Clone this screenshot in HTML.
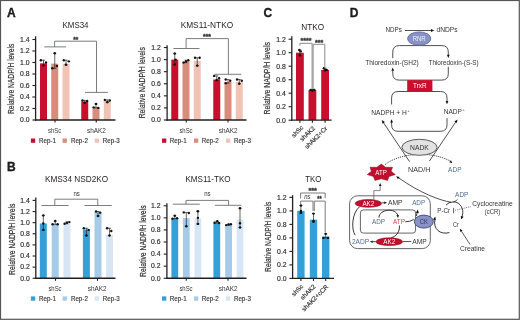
<!DOCTYPE html>
<html><head><meta charset="utf-8"><style>
html,body{margin:0;padding:0;background:#fff;}
svg{display:block;}
</style></head><body>
<svg width="520" height="320" viewBox="0 0 520 320">
<rect x="0" y="0" width="520" height="320" fill="#fff"/>
<g font-family='"Liberation Sans", "DejaVu Sans", sans-serif' fill="#231f20">
<text x="6.9" y="16.5" font-size="12.0" font-weight="bold" stroke="#000" stroke-width="0.3">A</text>
<text x="7.1" y="171.3" font-size="12.0" font-weight="bold" stroke="#000" stroke-width="0.3">B</text>
<text x="263.5" y="17.0" font-size="12.0" font-weight="bold" stroke="#000" stroke-width="0.3">C</text>
<text x="349.8" y="17.0" font-size="12.0" font-weight="bold" stroke="#000" stroke-width="0.3">D</text>
<rect x="40" y="63.36" width="7" height="56.64" fill="#c8102e"/>
<rect x="51.25" y="63.65" width="7" height="56.35" fill="#d98c7c"/>
<rect x="62.5" y="63.65" width="7" height="56.35" fill="#f1c3b5"/>
<rect x="81.25" y="101.60" width="7" height="18.40" fill="#c8102e"/>
<rect x="92.5" y="107.35" width="7" height="12.65" fill="#d98c7c"/>
<rect x="103.75" y="101.03" width="7" height="18.98" fill="#f1c3b5"/>
<line x1="43.5" y1="60.199999999999996" x2="43.5" y2="65.375" stroke="#222" stroke-width="0.7"/>
<line x1="42.0" y1="60.199999999999996" x2="45.0" y2="60.199999999999996" stroke="#222" stroke-width="0.7"/>
<line x1="42.0" y1="65.375" x2="45.0" y2="65.375" stroke="#222" stroke-width="0.7"/>
<circle cx="40.90" cy="60.20" r="1.2" fill="#111"/>
<circle cx="46.00" cy="62.50" r="1.2" fill="#111"/>
<circle cx="43.50" cy="65.38" r="1.2" fill="#111"/>
<line x1="54.75" y1="53.30000000000001" x2="54.75" y2="68.25" stroke="#222" stroke-width="0.7"/>
<line x1="53.25" y1="53.30000000000001" x2="56.25" y2="53.30000000000001" stroke="#222" stroke-width="0.7"/>
<line x1="53.25" y1="68.25" x2="56.25" y2="68.25" stroke="#222" stroke-width="0.7"/>
<circle cx="54.75" cy="53.30" r="1.2" fill="#111"/>
<circle cx="52.35" cy="68.25" r="1.2" fill="#111"/>
<circle cx="56.85" cy="65.95" r="1.2" fill="#111"/>
<line x1="66.0" y1="60.199999999999996" x2="66.0" y2="64.80000000000001" stroke="#222" stroke-width="0.7"/>
<line x1="64.5" y1="60.199999999999996" x2="67.5" y2="60.199999999999996" stroke="#222" stroke-width="0.7"/>
<line x1="64.5" y1="64.80000000000001" x2="67.5" y2="64.80000000000001" stroke="#222" stroke-width="0.7"/>
<circle cx="63.80" cy="60.20" r="1.2" fill="#111"/>
<circle cx="68.80" cy="61.35" r="1.2" fill="#111"/>
<circle cx="66.00" cy="64.80" r="1.2" fill="#111"/>
<line x1="84.75" y1="100.45" x2="84.75" y2="102.75" stroke="#222" stroke-width="0.7"/>
<line x1="83.25" y1="100.45" x2="86.25" y2="100.45" stroke="#222" stroke-width="0.7"/>
<line x1="83.25" y1="102.75" x2="86.25" y2="102.75" stroke="#222" stroke-width="0.7"/>
<circle cx="82.45" cy="100.45" r="1.2" fill="#111"/>
<circle cx="87.15" cy="101.03" r="1.2" fill="#111"/>
<circle cx="84.75" cy="102.75" r="1.2" fill="#111"/>
<line x1="96.0" y1="103.9" x2="96.0" y2="107.925" stroke="#222" stroke-width="0.7"/>
<line x1="94.5" y1="103.9" x2="97.5" y2="103.9" stroke="#222" stroke-width="0.7"/>
<line x1="94.5" y1="107.925" x2="97.5" y2="107.925" stroke="#222" stroke-width="0.7"/>
<circle cx="96.00" cy="103.90" r="1.2" fill="#111"/>
<circle cx="93.70" cy="107.35" r="1.2" fill="#111"/>
<circle cx="98.30" cy="107.92" r="1.2" fill="#111"/>
<line x1="107.25" y1="99.875" x2="107.25" y2="102.175" stroke="#222" stroke-width="0.7"/>
<line x1="105.75" y1="99.875" x2="108.75" y2="99.875" stroke="#222" stroke-width="0.7"/>
<line x1="105.75" y1="102.175" x2="108.75" y2="102.175" stroke="#222" stroke-width="0.7"/>
<circle cx="104.85" cy="99.88" r="1.2" fill="#111"/>
<circle cx="109.75" cy="100.45" r="1.2" fill="#111"/>
<circle cx="107.25" cy="102.17" r="1.2" fill="#111"/>
<line x1="35.6" y1="36.3" x2="35.6" y2="120.65" stroke="#231f20" stroke-width="1.3"/>
<line x1="34.95" y1="120" x2="115.5" y2="120" stroke="#231f20" stroke-width="1.3"/>
<line x1="32.4" y1="120.0" x2="35.6" y2="120.0" stroke="#231f20" stroke-width="1.1"/>
<text x="29.6" y="122.3" font-size="6.6" text-anchor="end" fill="#2a2a2a" textLength="9.5" lengthAdjust="spacingAndGlyphs" stroke="#2a2a2a" stroke-width="0.15">0.0</text>
<line x1="32.4" y1="108.5" x2="35.6" y2="108.5" stroke="#231f20" stroke-width="1.1"/>
<text x="29.6" y="110.8" font-size="6.6" text-anchor="end" fill="#2a2a2a" textLength="9.5" lengthAdjust="spacingAndGlyphs" stroke="#2a2a2a" stroke-width="0.15">0.2</text>
<line x1="32.4" y1="97.0" x2="35.6" y2="97.0" stroke="#231f20" stroke-width="1.1"/>
<text x="29.6" y="99.3" font-size="6.6" text-anchor="end" fill="#2a2a2a" textLength="9.5" lengthAdjust="spacingAndGlyphs" stroke="#2a2a2a" stroke-width="0.15">0.4</text>
<line x1="32.4" y1="85.5" x2="35.6" y2="85.5" stroke="#231f20" stroke-width="1.1"/>
<text x="29.6" y="87.8" font-size="6.6" text-anchor="end" fill="#2a2a2a" textLength="9.5" lengthAdjust="spacingAndGlyphs" stroke="#2a2a2a" stroke-width="0.15">0.6</text>
<line x1="32.4" y1="74.0" x2="35.6" y2="74.0" stroke="#231f20" stroke-width="1.1"/>
<text x="29.6" y="76.3" font-size="6.6" text-anchor="end" fill="#2a2a2a" textLength="9.5" lengthAdjust="spacingAndGlyphs" stroke="#2a2a2a" stroke-width="0.15">0.8</text>
<line x1="32.4" y1="62.5" x2="35.6" y2="62.5" stroke="#231f20" stroke-width="1.1"/>
<text x="29.6" y="64.8" font-size="6.6" text-anchor="end" fill="#2a2a2a" textLength="9.5" lengthAdjust="spacingAndGlyphs" stroke="#2a2a2a" stroke-width="0.15">1.0</text>
<line x1="32.4" y1="50.999999999999986" x2="35.6" y2="50.999999999999986" stroke="#231f20" stroke-width="1.1"/>
<text x="29.6" y="53.29999999999998" font-size="6.6" text-anchor="end" fill="#2a2a2a" textLength="9.5" lengthAdjust="spacingAndGlyphs" stroke="#2a2a2a" stroke-width="0.15">1.2</text>
<line x1="32.4" y1="39.499999999999986" x2="35.6" y2="39.499999999999986" stroke="#231f20" stroke-width="1.1"/>
<text x="29.6" y="41.79999999999998" font-size="6.6" text-anchor="end" fill="#2a2a2a" textLength="9.5" lengthAdjust="spacingAndGlyphs" stroke="#2a2a2a" stroke-width="0.15">1.4</text>
<line x1="55" y1="120" x2="55" y2="122.6" stroke="#231f20" stroke-width="1.1"/>
<line x1="96.25" y1="120" x2="96.25" y2="122.6" stroke="#231f20" stroke-width="1.1"/>
<text transform="translate(13.7,78.9) rotate(-90)" font-size="9" text-anchor="middle" fill="#333" stroke="#333" stroke-width="0.2" textLength="70.3" lengthAdjust="spacingAndGlyphs">Relative NADP/H levels</text>
<text x="75.5" y="28.2" font-size="8.6" text-anchor="middle" textLength="26" lengthAdjust="spacingAndGlyphs">KMS34</text>
<text x="54.6" y="132.5" font-size="7.6" text-anchor="middle" fill="#333" textLength="13.2" lengthAdjust="spacingAndGlyphs">shSc</text>
<text x="96.45" y="132.5" font-size="7.6" text-anchor="middle" fill="#333" textLength="18.9" lengthAdjust="spacingAndGlyphs">shAK2</text>
<polyline points="44.30,46.90 66.20,46.90" fill="none" stroke="#6d6e71" stroke-width="0.9"/>
<polyline points="54.60,46.90 54.60,41.20 96.50,41.20 96.50,92.40" fill="none" stroke="#6d6e71" stroke-width="0.9"/>
<polyline points="85.00,92.40 107.90,92.40" fill="none" stroke="#6d6e71" stroke-width="0.9"/>
<text x="75.85" y="41.8" font-size="7" text-anchor="middle" fill="#333" font-weight="bold" textLength="5" lengthAdjust="spacingAndGlyphs" stroke="#333" stroke-width="0.3">**</text>
<rect x="30.9" y="138.5" width="4.3" height="4.3" fill="#c8102e"/>
<text x="39" y="143" font-size="7.2" fill="#333" textLength="17" lengthAdjust="spacingAndGlyphs" stroke="#333" stroke-width="0.15">Rep-1</text>
<rect x="62.6" y="138.5" width="4.3" height="4.3" fill="#d98c7c"/>
<text x="70.9" y="143" font-size="7.2" fill="#333" textLength="17" lengthAdjust="spacingAndGlyphs" stroke="#333" stroke-width="0.15">Rep-2</text>
<rect x="94.7" y="138.5" width="4.3" height="4.3" fill="#f1c3b5"/>
<text x="102.7" y="143" font-size="7.2" fill="#333" textLength="17" lengthAdjust="spacingAndGlyphs" stroke="#333" stroke-width="0.15">Rep-3</text>
<rect x="171.25" y="59.60" width="7" height="60.40" fill="#c8102e"/>
<rect x="182.5" y="61.41" width="7" height="58.59" fill="#d98c7c"/>
<rect x="193.75" y="60.81" width="7" height="59.19" fill="#f1c3b5"/>
<rect x="213.25" y="79.53" width="7" height="40.47" fill="#c8102e"/>
<rect x="224.5" y="81.95" width="7" height="38.05" fill="#d98c7c"/>
<rect x="235.75" y="81.95" width="7" height="38.05" fill="#f1c3b5"/>
<line x1="174.75" y1="53.56" x2="174.75" y2="64.432" stroke="#222" stroke-width="0.7"/>
<line x1="173.25" y1="53.56" x2="176.25" y2="53.56" stroke="#222" stroke-width="0.7"/>
<line x1="173.25" y1="64.432" x2="176.25" y2="64.432" stroke="#222" stroke-width="0.7"/>
<circle cx="174.75" cy="53.56" r="1.2" fill="#111"/>
<circle cx="174.75" cy="64.43" r="1.2" fill="#111"/>
<circle cx="175.55" cy="59.60" r="1.2" fill="#111"/>
<line x1="186.0" y1="60.204" x2="186.0" y2="62.620000000000005" stroke="#222" stroke-width="0.7"/>
<line x1="184.5" y1="60.204" x2="187.5" y2="60.204" stroke="#222" stroke-width="0.7"/>
<line x1="184.5" y1="62.620000000000005" x2="187.5" y2="62.620000000000005" stroke="#222" stroke-width="0.7"/>
<circle cx="183.60" cy="62.62" r="1.2" fill="#111"/>
<circle cx="188.30" cy="60.20" r="1.2" fill="#111"/>
<circle cx="186.00" cy="61.41" r="1.2" fill="#111"/>
<line x1="197.25" y1="57.788" x2="197.25" y2="65.64" stroke="#222" stroke-width="0.7"/>
<line x1="195.75" y1="57.788" x2="198.75" y2="57.788" stroke="#222" stroke-width="0.7"/>
<line x1="195.75" y1="65.64" x2="198.75" y2="65.64" stroke="#222" stroke-width="0.7"/>
<circle cx="195.05" cy="57.79" r="1.2" fill="#111"/>
<circle cx="199.65" cy="57.79" r="1.2" fill="#111"/>
<circle cx="197.25" cy="65.64" r="1.2" fill="#111"/>
<line x1="216.75" y1="75.908" x2="216.75" y2="80.136" stroke="#222" stroke-width="0.7"/>
<line x1="215.25" y1="75.908" x2="218.25" y2="75.908" stroke="#222" stroke-width="0.7"/>
<line x1="215.25" y1="80.136" x2="218.25" y2="80.136" stroke="#222" stroke-width="0.7"/>
<circle cx="214.15" cy="75.91" r="1.2" fill="#111"/>
<circle cx="219.05" cy="78.32" r="1.2" fill="#111"/>
<circle cx="216.75" cy="80.14" r="1.2" fill="#111"/>
<line x1="228.0" y1="79.532" x2="228.0" y2="83.156" stroke="#222" stroke-width="0.7"/>
<line x1="226.5" y1="79.532" x2="229.5" y2="79.532" stroke="#222" stroke-width="0.7"/>
<line x1="226.5" y1="83.156" x2="229.5" y2="83.156" stroke="#222" stroke-width="0.7"/>
<circle cx="225.70" cy="79.53" r="1.2" fill="#111"/>
<circle cx="230.20" cy="80.74" r="1.2" fill="#111"/>
<circle cx="225.70" cy="83.16" r="1.2" fill="#111"/>
<line x1="239.25" y1="79.532" x2="239.25" y2="83.76" stroke="#222" stroke-width="0.7"/>
<line x1="237.75" y1="79.532" x2="240.75" y2="79.532" stroke="#222" stroke-width="0.7"/>
<line x1="237.75" y1="83.76" x2="240.75" y2="83.76" stroke="#222" stroke-width="0.7"/>
<circle cx="237.05" cy="79.53" r="1.2" fill="#111"/>
<circle cx="241.75" cy="80.74" r="1.2" fill="#111"/>
<circle cx="239.25" cy="83.76" r="1.2" fill="#111"/>
<line x1="167.1" y1="45.2" x2="167.1" y2="120.65" stroke="#231f20" stroke-width="1.3"/>
<line x1="166.45" y1="120" x2="246.5" y2="120" stroke="#231f20" stroke-width="1.3"/>
<line x1="163.9" y1="120.0" x2="167.1" y2="120.0" stroke="#231f20" stroke-width="1.1"/>
<text x="160.79999999999998" y="122.3" font-size="6.6" text-anchor="end" fill="#2a2a2a" textLength="9.5" lengthAdjust="spacingAndGlyphs" stroke="#2a2a2a" stroke-width="0.15">0.0</text>
<line x1="163.9" y1="107.92" x2="167.1" y2="107.92" stroke="#231f20" stroke-width="1.1"/>
<text x="160.79999999999998" y="110.22" font-size="6.6" text-anchor="end" fill="#2a2a2a" textLength="9.5" lengthAdjust="spacingAndGlyphs" stroke="#2a2a2a" stroke-width="0.15">0.2</text>
<line x1="163.9" y1="95.84" x2="167.1" y2="95.84" stroke="#231f20" stroke-width="1.1"/>
<text x="160.79999999999998" y="98.14" font-size="6.6" text-anchor="end" fill="#2a2a2a" textLength="9.5" lengthAdjust="spacingAndGlyphs" stroke="#2a2a2a" stroke-width="0.15">0.4</text>
<line x1="163.9" y1="83.75999999999999" x2="167.1" y2="83.75999999999999" stroke="#231f20" stroke-width="1.1"/>
<text x="160.79999999999998" y="86.05999999999999" font-size="6.6" text-anchor="end" fill="#2a2a2a" textLength="9.5" lengthAdjust="spacingAndGlyphs" stroke="#2a2a2a" stroke-width="0.15">0.6</text>
<line x1="163.9" y1="71.68" x2="167.1" y2="71.68" stroke="#231f20" stroke-width="1.1"/>
<text x="160.79999999999998" y="73.98" font-size="6.6" text-anchor="end" fill="#2a2a2a" textLength="9.5" lengthAdjust="spacingAndGlyphs" stroke="#2a2a2a" stroke-width="0.15">0.8</text>
<line x1="163.9" y1="59.6" x2="167.1" y2="59.6" stroke="#231f20" stroke-width="1.1"/>
<text x="160.79999999999998" y="61.9" font-size="6.6" text-anchor="end" fill="#2a2a2a" textLength="9.5" lengthAdjust="spacingAndGlyphs" stroke="#2a2a2a" stroke-width="0.15">1.0</text>
<line x1="163.9" y1="47.519999999999996" x2="167.1" y2="47.519999999999996" stroke="#231f20" stroke-width="1.1"/>
<text x="160.79999999999998" y="49.81999999999999" font-size="6.6" text-anchor="end" fill="#2a2a2a" textLength="9.5" lengthAdjust="spacingAndGlyphs" stroke="#2a2a2a" stroke-width="0.15">1.2</text>
<line x1="186.25" y1="120" x2="186.25" y2="122.6" stroke="#231f20" stroke-width="1.1"/>
<line x1="228" y1="120" x2="228" y2="122.6" stroke="#231f20" stroke-width="1.1"/>
<text transform="translate(145.0,82.7) rotate(-90)" font-size="9" text-anchor="middle" fill="#333" stroke="#333" stroke-width="0.2" textLength="71.2" lengthAdjust="spacingAndGlyphs">Relative NADP/H levels</text>
<text x="206.9" y="28.0" font-size="8.8" text-anchor="middle" textLength="52.5" lengthAdjust="spacingAndGlyphs">KMS11-NTKO</text>
<text x="186.0" y="132.5" font-size="7.6" text-anchor="middle" fill="#333" textLength="13.2" lengthAdjust="spacingAndGlyphs">shSc</text>
<text x="228.2" y="132.5" font-size="7.6" text-anchor="middle" fill="#333" textLength="18.9" lengthAdjust="spacingAndGlyphs">shAK2</text>
<polyline points="173.40,48.50 199.50,48.50" fill="none" stroke="#6d6e71" stroke-width="0.9"/>
<polyline points="186.10,48.50 186.10,38.60 228.40,38.60 228.40,74.30" fill="none" stroke="#6d6e71" stroke-width="0.9"/>
<polyline points="214.50,74.30 241.30,74.30" fill="none" stroke="#6d6e71" stroke-width="0.9"/>
<text x="207.0" y="38.9" font-size="7" text-anchor="middle" fill="#333" font-weight="bold" textLength="8" lengthAdjust="spacingAndGlyphs" stroke="#333" stroke-width="0.3">***</text>
<rect x="162" y="138.5" width="4.3" height="4.3" fill="#c8102e"/>
<text x="169.8" y="143" font-size="7.2" fill="#333" textLength="17" lengthAdjust="spacingAndGlyphs" stroke="#333" stroke-width="0.15">Rep-1</text>
<rect x="194" y="138.5" width="4.3" height="4.3" fill="#d98c7c"/>
<text x="201.8" y="143" font-size="7.2" fill="#333" textLength="17" lengthAdjust="spacingAndGlyphs" stroke="#333" stroke-width="0.15">Rep-2</text>
<rect x="226" y="138.5" width="4.3" height="4.3" fill="#f1c3b5"/>
<text x="233.9" y="143" font-size="7.2" fill="#333" textLength="17" lengthAdjust="spacingAndGlyphs" stroke="#333" stroke-width="0.15">Rep-3</text>
<rect x="39.8" y="223.48" width="7" height="54.77" fill="#35a0d8"/>
<rect x="51.7" y="224.32" width="7" height="53.93" fill="#a5cbe9"/>
<rect x="63.4" y="223.76" width="7" height="54.49" fill="#d7e6f4"/>
<rect x="82.9" y="229.60" width="7" height="48.65" fill="#35a0d8"/>
<rect x="94.5" y="212.09" width="7" height="66.16" fill="#a5cbe9"/>
<rect x="106" y="234.88" width="7" height="43.37" fill="#d7e6f4"/>
<line x1="43.3" y1="215.422" x2="43.3" y2="229.878" stroke="#222" stroke-width="0.7"/>
<line x1="41.8" y1="215.422" x2="44.8" y2="215.422" stroke="#222" stroke-width="0.7"/>
<line x1="41.8" y1="229.878" x2="44.8" y2="229.878" stroke="#222" stroke-width="0.7"/>
<circle cx="43.30" cy="215.42" r="1.2" fill="#111"/>
<circle cx="43.30" cy="223.48" r="1.2" fill="#111"/>
<circle cx="43.30" cy="229.88" r="1.2" fill="#111"/>
<line x1="55.2" y1="220.982" x2="55.2" y2="224.31799999999998" stroke="#222" stroke-width="0.7"/>
<line x1="53.7" y1="220.982" x2="56.7" y2="220.982" stroke="#222" stroke-width="0.7"/>
<line x1="53.7" y1="224.31799999999998" x2="56.7" y2="224.31799999999998" stroke="#222" stroke-width="0.7"/>
<circle cx="52.60" cy="224.32" r="1.2" fill="#111"/>
<circle cx="55.20" cy="220.98" r="1.2" fill="#111"/>
<circle cx="57.60" cy="224.32" r="1.2" fill="#111"/>
<line x1="66.9" y1="222.094" x2="66.9" y2="223.762" stroke="#222" stroke-width="0.7"/>
<line x1="65.4" y1="222.094" x2="68.4" y2="222.094" stroke="#222" stroke-width="0.7"/>
<line x1="65.4" y1="223.762" x2="68.4" y2="223.762" stroke="#222" stroke-width="0.7"/>
<circle cx="64.60" cy="223.76" r="1.2" fill="#111"/>
<circle cx="66.90" cy="222.65" r="1.2" fill="#111"/>
<circle cx="69.30" cy="222.09" r="1.2" fill="#111"/>
<line x1="86.4" y1="228.21" x2="86.4" y2="235.438" stroke="#222" stroke-width="0.7"/>
<line x1="84.9" y1="228.21" x2="87.9" y2="228.21" stroke="#222" stroke-width="0.7"/>
<line x1="84.9" y1="235.438" x2="87.9" y2="235.438" stroke="#222" stroke-width="0.7"/>
<circle cx="83.80" cy="228.21" r="1.2" fill="#111"/>
<circle cx="88.60" cy="229.88" r="1.2" fill="#111"/>
<circle cx="86.40" cy="235.44" r="1.2" fill="#111"/>
<line x1="98.0" y1="211.53" x2="98.0" y2="215.978" stroke="#222" stroke-width="0.7"/>
<line x1="96.5" y1="211.53" x2="99.5" y2="211.53" stroke="#222" stroke-width="0.7"/>
<line x1="96.5" y1="215.978" x2="99.5" y2="215.978" stroke="#222" stroke-width="0.7"/>
<circle cx="96.00" cy="211.53" r="1.2" fill="#111"/>
<circle cx="100.20" cy="212.64" r="1.2" fill="#111"/>
<circle cx="98.00" cy="215.98" r="1.2" fill="#111"/>
<line x1="109.5" y1="228.21" x2="109.5" y2="235.438" stroke="#222" stroke-width="0.7"/>
<line x1="108.0" y1="228.21" x2="111.0" y2="228.21" stroke="#222" stroke-width="0.7"/>
<line x1="108.0" y1="235.438" x2="111.0" y2="235.438" stroke="#222" stroke-width="0.7"/>
<circle cx="107.10" cy="228.21" r="1.2" fill="#111"/>
<circle cx="111.30" cy="230.99" r="1.2" fill="#111"/>
<circle cx="109.50" cy="235.44" r="1.2" fill="#111"/>
<line x1="35.8" y1="197.5" x2="35.8" y2="278.9" stroke="#231f20" stroke-width="1.3"/>
<line x1="35.15" y1="278.25" x2="115.5" y2="278.25" stroke="#231f20" stroke-width="1.3"/>
<line x1="32.599999999999994" y1="278.25" x2="35.8" y2="278.25" stroke="#231f20" stroke-width="1.1"/>
<text x="29.799999999999997" y="280.55" font-size="6.6" text-anchor="end" fill="#2a2a2a" textLength="9.5" lengthAdjust="spacingAndGlyphs" stroke="#2a2a2a" stroke-width="0.15">0.0</text>
<line x1="32.599999999999994" y1="267.13" x2="35.8" y2="267.13" stroke="#231f20" stroke-width="1.1"/>
<text x="29.799999999999997" y="269.43" font-size="6.6" text-anchor="end" fill="#2a2a2a" textLength="9.5" lengthAdjust="spacingAndGlyphs" stroke="#2a2a2a" stroke-width="0.15">0.2</text>
<line x1="32.599999999999994" y1="256.01" x2="35.8" y2="256.01" stroke="#231f20" stroke-width="1.1"/>
<text x="29.799999999999997" y="258.31" font-size="6.6" text-anchor="end" fill="#2a2a2a" textLength="9.5" lengthAdjust="spacingAndGlyphs" stroke="#2a2a2a" stroke-width="0.15">0.4</text>
<line x1="32.599999999999994" y1="244.89" x2="35.8" y2="244.89" stroke="#231f20" stroke-width="1.1"/>
<text x="29.799999999999997" y="247.19" font-size="6.6" text-anchor="end" fill="#2a2a2a" textLength="9.5" lengthAdjust="spacingAndGlyphs" stroke="#2a2a2a" stroke-width="0.15">0.6</text>
<line x1="32.599999999999994" y1="233.76999999999998" x2="35.8" y2="233.76999999999998" stroke="#231f20" stroke-width="1.1"/>
<text x="29.799999999999997" y="236.07" font-size="6.6" text-anchor="end" fill="#2a2a2a" textLength="9.5" lengthAdjust="spacingAndGlyphs" stroke="#2a2a2a" stroke-width="0.15">0.8</text>
<line x1="32.599999999999994" y1="222.65" x2="35.8" y2="222.65" stroke="#231f20" stroke-width="1.1"/>
<text x="29.799999999999997" y="224.95000000000002" font-size="6.6" text-anchor="end" fill="#2a2a2a" textLength="9.5" lengthAdjust="spacingAndGlyphs" stroke="#2a2a2a" stroke-width="0.15">1.0</text>
<line x1="32.599999999999994" y1="211.52999999999997" x2="35.8" y2="211.52999999999997" stroke="#231f20" stroke-width="1.1"/>
<text x="29.799999999999997" y="213.82999999999998" font-size="6.6" text-anchor="end" fill="#2a2a2a" textLength="9.5" lengthAdjust="spacingAndGlyphs" stroke="#2a2a2a" stroke-width="0.15">1.2</text>
<line x1="32.599999999999994" y1="200.41" x2="35.8" y2="200.41" stroke="#231f20" stroke-width="1.1"/>
<text x="29.799999999999997" y="202.71" font-size="6.6" text-anchor="end" fill="#2a2a2a" textLength="9.5" lengthAdjust="spacingAndGlyphs" stroke="#2a2a2a" stroke-width="0.15">1.4</text>
<line x1="55.5" y1="278.25" x2="55.5" y2="280.85" stroke="#231f20" stroke-width="1.1"/>
<line x1="97.5" y1="278.25" x2="97.5" y2="280.85" stroke="#231f20" stroke-width="1.1"/>
<text transform="translate(14.6,239.3) rotate(-90)" font-size="9" text-anchor="middle" fill="#333" stroke="#333" stroke-width="0.2" textLength="71.2" lengthAdjust="spacingAndGlyphs">Relative NADP/H levels</text>
<text x="76.6" y="182.0" font-size="8.8" text-anchor="middle" textLength="63.2" lengthAdjust="spacingAndGlyphs">KMS34 NSD2KO</text>
<text x="55.0" y="290.5" font-size="7.6" text-anchor="middle" fill="#333" textLength="13.2" lengthAdjust="spacingAndGlyphs">shSc</text>
<text x="97.2" y="290.5" font-size="7.6" text-anchor="middle" fill="#333" textLength="18.9" lengthAdjust="spacingAndGlyphs">shAK2</text>
<polyline points="41.40,205.50 68.60,205.50" fill="none" stroke="#6d6e71" stroke-width="0.9"/>
<polyline points="54.80,205.50 54.80,199.20 97.80,199.20 97.80,205.50" fill="none" stroke="#6d6e71" stroke-width="0.9"/>
<polyline points="84.50,205.50 111.70,205.50" fill="none" stroke="#6d6e71" stroke-width="0.9"/>
<text x="76.6" y="196.1" font-size="6.8" text-anchor="middle" fill="#333" textLength="6.4" lengthAdjust="spacingAndGlyphs">ns</text>
<rect x="30.9" y="296.4" width="4.3" height="4.3" fill="#35a0d8"/>
<text x="39" y="300.9" font-size="7.2" fill="#333" textLength="17" lengthAdjust="spacingAndGlyphs" stroke="#333" stroke-width="0.15">Rep-1</text>
<rect x="62.6" y="296.4" width="4.3" height="4.3" fill="#a5cbe9"/>
<text x="70.9" y="300.9" font-size="7.2" fill="#333" textLength="17" lengthAdjust="spacingAndGlyphs" stroke="#333" stroke-width="0.15">Rep-2</text>
<rect x="94.7" y="296.4" width="4.3" height="4.3" fill="#d7e6f4"/>
<text x="102.7" y="300.9" font-size="7.2" fill="#333" textLength="17" lengthAdjust="spacingAndGlyphs" stroke="#333" stroke-width="0.15">Rep-3</text>
<rect x="171.4" y="218.09" width="6.8" height="60.16" fill="#35a0d8"/>
<rect x="182.9" y="218.09" width="6.8" height="60.16" fill="#a5cbe9"/>
<rect x="194.5" y="218.45" width="6.8" height="59.80" fill="#d7e6f4"/>
<rect x="213.4" y="222.68" width="6.8" height="55.57" fill="#35a0d8"/>
<rect x="225.2" y="225.10" width="6.8" height="53.15" fill="#a5cbe9"/>
<rect x="236.6" y="219.66" width="6.8" height="58.59" fill="#d7e6f4"/>
<line x1="174.8" y1="215.736" x2="174.8" y2="218.756" stroke="#222" stroke-width="0.7"/>
<line x1="173.3" y1="215.736" x2="176.3" y2="215.736" stroke="#222" stroke-width="0.7"/>
<line x1="173.3" y1="218.756" x2="176.3" y2="218.756" stroke="#222" stroke-width="0.7"/>
<circle cx="172.50" cy="218.76" r="1.2" fill="#111"/>
<circle cx="174.80" cy="215.74" r="1.2" fill="#111"/>
<circle cx="177.10" cy="218.15" r="1.2" fill="#111"/>
<line x1="186.3" y1="212.414" x2="186.3" y2="226.306" stroke="#222" stroke-width="0.7"/>
<line x1="184.8" y1="212.414" x2="187.8" y2="212.414" stroke="#222" stroke-width="0.7"/>
<line x1="184.8" y1="226.306" x2="187.8" y2="226.306" stroke="#222" stroke-width="0.7"/>
<circle cx="183.80" cy="212.41" r="1.2" fill="#111"/>
<circle cx="188.80" cy="213.02" r="1.2" fill="#111"/>
<circle cx="186.30" cy="226.31" r="1.2" fill="#111"/>
<line x1="197.9" y1="211.206" x2="197.9" y2="223.89" stroke="#222" stroke-width="0.7"/>
<line x1="196.4" y1="211.206" x2="199.4" y2="211.206" stroke="#222" stroke-width="0.7"/>
<line x1="196.4" y1="223.89" x2="199.4" y2="223.89" stroke="#222" stroke-width="0.7"/>
<circle cx="197.90" cy="211.21" r="1.2" fill="#111"/>
<circle cx="197.90" cy="217.85" r="1.2" fill="#111"/>
<circle cx="197.90" cy="223.89" r="1.2" fill="#111"/>
<line x1="216.8" y1="221.172" x2="216.8" y2="222.984" stroke="#222" stroke-width="0.7"/>
<line x1="215.3" y1="221.172" x2="218.3" y2="221.172" stroke="#222" stroke-width="0.7"/>
<line x1="215.3" y1="222.984" x2="218.3" y2="222.984" stroke="#222" stroke-width="0.7"/>
<circle cx="214.60" cy="222.68" r="1.2" fill="#111"/>
<circle cx="217.30" cy="221.17" r="1.2" fill="#111"/>
<circle cx="219.10" cy="222.98" r="1.2" fill="#111"/>
<line x1="228.6" y1="224.192" x2="228.6" y2="225.098" stroke="#222" stroke-width="0.7"/>
<line x1="227.1" y1="224.192" x2="230.1" y2="224.192" stroke="#222" stroke-width="0.7"/>
<line x1="227.1" y1="225.098" x2="230.1" y2="225.098" stroke="#222" stroke-width="0.7"/>
<circle cx="226.20" cy="225.10" r="1.2" fill="#111"/>
<circle cx="228.60" cy="224.49" r="1.2" fill="#111"/>
<circle cx="230.90" cy="224.19" r="1.2" fill="#111"/>
<line x1="240.0" y1="208.186" x2="240.0" y2="227.514" stroke="#222" stroke-width="0.7"/>
<line x1="238.5" y1="208.186" x2="241.5" y2="208.186" stroke="#222" stroke-width="0.7"/>
<line x1="238.5" y1="227.514" x2="241.5" y2="227.514" stroke="#222" stroke-width="0.7"/>
<circle cx="240.00" cy="208.19" r="1.2" fill="#111"/>
<circle cx="240.00" cy="223.29" r="1.2" fill="#111"/>
<circle cx="240.00" cy="227.51" r="1.2" fill="#111"/>
<line x1="166.9" y1="203.2" x2="166.9" y2="278.9" stroke="#231f20" stroke-width="1.3"/>
<line x1="166.25" y1="278.25" x2="246.5" y2="278.25" stroke="#231f20" stroke-width="1.3"/>
<line x1="163.70000000000002" y1="278.25" x2="166.9" y2="278.25" stroke="#231f20" stroke-width="1.1"/>
<text x="160.5" y="280.55" font-size="6.6" text-anchor="end" fill="#2a2a2a" textLength="9.5" lengthAdjust="spacingAndGlyphs" stroke="#2a2a2a" stroke-width="0.15">0.0</text>
<line x1="163.70000000000002" y1="266.17" x2="166.9" y2="266.17" stroke="#231f20" stroke-width="1.1"/>
<text x="160.5" y="268.47" font-size="6.6" text-anchor="end" fill="#2a2a2a" textLength="9.5" lengthAdjust="spacingAndGlyphs" stroke="#2a2a2a" stroke-width="0.15">0.2</text>
<line x1="163.70000000000002" y1="254.09" x2="166.9" y2="254.09" stroke="#231f20" stroke-width="1.1"/>
<text x="160.5" y="256.39" font-size="6.6" text-anchor="end" fill="#2a2a2a" textLength="9.5" lengthAdjust="spacingAndGlyphs" stroke="#2a2a2a" stroke-width="0.15">0.4</text>
<line x1="163.70000000000002" y1="242.01" x2="166.9" y2="242.01" stroke="#231f20" stroke-width="1.1"/>
<text x="160.5" y="244.31" font-size="6.6" text-anchor="end" fill="#2a2a2a" textLength="9.5" lengthAdjust="spacingAndGlyphs" stroke="#2a2a2a" stroke-width="0.15">0.6</text>
<line x1="163.70000000000002" y1="229.93" x2="166.9" y2="229.93" stroke="#231f20" stroke-width="1.1"/>
<text x="160.5" y="232.23000000000002" font-size="6.6" text-anchor="end" fill="#2a2a2a" textLength="9.5" lengthAdjust="spacingAndGlyphs" stroke="#2a2a2a" stroke-width="0.15">0.8</text>
<line x1="163.70000000000002" y1="217.85" x2="166.9" y2="217.85" stroke="#231f20" stroke-width="1.1"/>
<text x="160.5" y="220.15" font-size="6.6" text-anchor="end" fill="#2a2a2a" textLength="9.5" lengthAdjust="spacingAndGlyphs" stroke="#2a2a2a" stroke-width="0.15">1.0</text>
<line x1="163.70000000000002" y1="205.76999999999998" x2="166.9" y2="205.76999999999998" stroke="#231f20" stroke-width="1.1"/>
<text x="160.5" y="208.07" font-size="6.6" text-anchor="end" fill="#2a2a2a" textLength="9.5" lengthAdjust="spacingAndGlyphs" stroke="#2a2a2a" stroke-width="0.15">1.2</text>
<line x1="186.25" y1="278.25" x2="186.25" y2="280.85" stroke="#231f20" stroke-width="1.1"/>
<line x1="228" y1="278.25" x2="228" y2="280.85" stroke="#231f20" stroke-width="1.1"/>
<text transform="translate(145.5,241.2) rotate(-90)" font-size="9" text-anchor="middle" fill="#333" stroke="#333" stroke-width="0.2" textLength="71.5" lengthAdjust="spacingAndGlyphs">Relative NADP/H levels</text>
<text x="208" y="181.9" font-size="8.8" text-anchor="middle" textLength="45.2" lengthAdjust="spacingAndGlyphs">KMS11-TKO</text>
<text x="186.0" y="290.5" font-size="7.6" text-anchor="middle" fill="#333" textLength="13.2" lengthAdjust="spacingAndGlyphs">shSc</text>
<text x="228.2" y="290.5" font-size="7.6" text-anchor="middle" fill="#333" textLength="18.9" lengthAdjust="spacingAndGlyphs">shAK2</text>
<polyline points="172.90,204.20 199.80,204.20" fill="none" stroke="#6d6e71" stroke-width="0.9"/>
<polyline points="186.00,204.20 186.00,200.40 228.60,200.40 228.60,205.30" fill="none" stroke="#6d6e71" stroke-width="0.9"/>
<polyline points="214.90,205.30 241.40,205.30" fill="none" stroke="#6d6e71" stroke-width="0.9"/>
<text x="207.4" y="195.8" font-size="6.8" text-anchor="middle" fill="#333" textLength="6.4" lengthAdjust="spacingAndGlyphs">ns</text>
<rect x="162" y="296.4" width="4.3" height="4.3" fill="#35a0d8"/>
<text x="169.8" y="300.9" font-size="7.2" fill="#333" textLength="17" lengthAdjust="spacingAndGlyphs" stroke="#333" stroke-width="0.15">Rep-1</text>
<rect x="194" y="296.4" width="4.3" height="4.3" fill="#a5cbe9"/>
<text x="201.8" y="300.9" font-size="7.2" fill="#333" textLength="17" lengthAdjust="spacingAndGlyphs" stroke="#333" stroke-width="0.15">Rep-2</text>
<rect x="226" y="296.4" width="4.3" height="4.3" fill="#d7e6f4"/>
<text x="233.9" y="300.9" font-size="7.2" fill="#333" textLength="17" lengthAdjust="spacingAndGlyphs" stroke="#333" stroke-width="0.15">Rep-3</text>
<rect x="296" y="52.70" width="7.8" height="67.50" fill="#c8102e"/>
<rect x="308.5" y="90.03" width="7.8" height="30.17" fill="#c8102e"/>
<rect x="321.2" y="69.91" width="7.8" height="50.29" fill="#c8102e"/>
<line x1="299.9" y1="50.0" x2="299.9" y2="55.400000000000006" stroke="#222" stroke-width="0.7"/>
<line x1="298.4" y1="50.0" x2="301.4" y2="50.0" stroke="#222" stroke-width="0.7"/>
<line x1="298.4" y1="55.400000000000006" x2="301.4" y2="55.400000000000006" stroke="#222" stroke-width="0.7"/>
<circle cx="299.30" cy="50.00" r="1.2" fill="#111"/>
<circle cx="300.70" cy="51.35" r="1.2" fill="#111"/>
<circle cx="299.90" cy="55.40" r="1.2" fill="#111"/>
<line x1="312.4" y1="89.825" x2="312.4" y2="90.5" stroke="#222" stroke-width="0.7"/>
<line x1="310.9" y1="89.825" x2="313.9" y2="89.825" stroke="#222" stroke-width="0.7"/>
<line x1="310.9" y1="90.5" x2="313.9" y2="90.5" stroke="#222" stroke-width="0.7"/>
<circle cx="310.60" cy="89.83" r="1.2" fill="#111"/>
<circle cx="314.20" cy="89.83" r="1.2" fill="#111"/>
<circle cx="312.40" cy="90.50" r="1.2" fill="#111"/>
<line x1="325.09999999999997" y1="68.225" x2="325.09999999999997" y2="70.25" stroke="#222" stroke-width="0.7"/>
<line x1="323.59999999999997" y1="68.225" x2="326.59999999999997" y2="68.225" stroke="#222" stroke-width="0.7"/>
<line x1="323.59999999999997" y1="70.25" x2="326.59999999999997" y2="70.25" stroke="#222" stroke-width="0.7"/>
<circle cx="323.90" cy="68.22" r="1.2" fill="#111"/>
<circle cx="326.70" cy="69.91" r="1.2" fill="#111"/>
<circle cx="325.10" cy="70.25" r="1.2" fill="#111"/>
<line x1="291.8" y1="36.3" x2="291.8" y2="120.85000000000001" stroke="#231f20" stroke-width="1.3"/>
<line x1="291.15000000000003" y1="120.2" x2="331.6" y2="120.2" stroke="#231f20" stroke-width="1.3"/>
<line x1="288.6" y1="120.2" x2="291.8" y2="120.2" stroke="#231f20" stroke-width="1.1"/>
<text x="285.8" y="122.5" font-size="6.6" text-anchor="end" fill="#2a2a2a" textLength="9.5" lengthAdjust="spacingAndGlyphs" stroke="#2a2a2a" stroke-width="0.15">0.0</text>
<line x1="288.6" y1="106.7" x2="291.8" y2="106.7" stroke="#231f20" stroke-width="1.1"/>
<text x="285.8" y="109.0" font-size="6.6" text-anchor="end" fill="#2a2a2a" textLength="9.5" lengthAdjust="spacingAndGlyphs" stroke="#2a2a2a" stroke-width="0.15">0.2</text>
<line x1="288.6" y1="93.2" x2="291.8" y2="93.2" stroke="#231f20" stroke-width="1.1"/>
<text x="285.8" y="95.5" font-size="6.6" text-anchor="end" fill="#2a2a2a" textLength="9.5" lengthAdjust="spacingAndGlyphs" stroke="#2a2a2a" stroke-width="0.15">0.4</text>
<line x1="288.6" y1="79.69999999999999" x2="291.8" y2="79.69999999999999" stroke="#231f20" stroke-width="1.1"/>
<text x="285.8" y="81.99999999999999" font-size="6.6" text-anchor="end" fill="#2a2a2a" textLength="9.5" lengthAdjust="spacingAndGlyphs" stroke="#2a2a2a" stroke-width="0.15">0.6</text>
<line x1="288.6" y1="66.2" x2="291.8" y2="66.2" stroke="#231f20" stroke-width="1.1"/>
<text x="285.8" y="68.5" font-size="6.6" text-anchor="end" fill="#2a2a2a" textLength="9.5" lengthAdjust="spacingAndGlyphs" stroke="#2a2a2a" stroke-width="0.15">0.8</text>
<line x1="288.6" y1="52.7" x2="291.8" y2="52.7" stroke="#231f20" stroke-width="1.1"/>
<text x="285.8" y="55.0" font-size="6.6" text-anchor="end" fill="#2a2a2a" textLength="9.5" lengthAdjust="spacingAndGlyphs" stroke="#2a2a2a" stroke-width="0.15">1.0</text>
<line x1="288.6" y1="39.19999999999999" x2="291.8" y2="39.19999999999999" stroke="#231f20" stroke-width="1.1"/>
<text x="285.8" y="41.499999999999986" font-size="6.6" text-anchor="end" fill="#2a2a2a" textLength="9.5" lengthAdjust="spacingAndGlyphs" stroke="#2a2a2a" stroke-width="0.15">1.2</text>
<line x1="299.9" y1="120.2" x2="299.9" y2="122.8" stroke="#231f20" stroke-width="1.1"/>
<line x1="312.4" y1="120.2" x2="312.4" y2="122.8" stroke="#231f20" stroke-width="1.1"/>
<line x1="325.1" y1="120.2" x2="325.1" y2="122.8" stroke="#231f20" stroke-width="1.1"/>
<text transform="translate(270.3,78.3) rotate(-90)" font-size="9" text-anchor="middle" fill="#333" stroke="#333" stroke-width="0.2" textLength="72.3" lengthAdjust="spacingAndGlyphs">Relative NADP/H levels</text>
<text x="312.65" y="30.0" font-size="8.8" text-anchor="middle" textLength="22.9" lengthAdjust="spacingAndGlyphs">NTKO</text>
<polyline points="299.90,45.60 299.90,43.30 312.10,43.30 312.10,89.00" fill="none" stroke="#8a8a8a" stroke-width="1.0"/>
<polyline points="313.10,89.00 313.10,44.30 324.80,44.30 324.80,68.30" fill="none" stroke="#8a8a8a" stroke-width="1.0"/>
<text x="305.9" y="42.95" font-size="7" text-anchor="middle" fill="#333" font-weight="bold" textLength="11" lengthAdjust="spacingAndGlyphs" stroke="#333" stroke-width="0.3">****</text>
<text x="319.15" y="44.5" font-size="7" text-anchor="middle" fill="#333" font-weight="bold" textLength="8.3" lengthAdjust="spacingAndGlyphs" stroke="#333" stroke-width="0.3">***</text>
<text transform="translate(303.8,128.0) rotate(-45)" font-size="6.3" text-anchor="end" fill="#2a2a2a" stroke="#2a2a2a" stroke-width="0.15">shSc</text>
<text transform="translate(315.4,128.7) rotate(-45)" font-size="6.3" text-anchor="end" fill="#2a2a2a" stroke="#2a2a2a" stroke-width="0.15">shAK2</text>
<text transform="translate(327.7,128.9) rotate(-45)" font-size="6.3" text-anchor="end" fill="#2a2a2a" stroke="#2a2a2a" stroke-width="0.15">shAK2+Cr</text>
<rect x="297.2" y="210.90" width="7.4" height="67.50" fill="#35a0d8"/>
<rect x="309.8" y="219.67" width="7.4" height="58.73" fill="#35a0d8"/>
<rect x="322" y="236.55" width="7.4" height="41.85" fill="#35a0d8"/>
<line x1="300.9" y1="205.49999999999997" x2="300.9" y2="212.92499999999998" stroke="#222" stroke-width="0.7"/>
<line x1="299.4" y1="205.49999999999997" x2="302.4" y2="205.49999999999997" stroke="#222" stroke-width="0.7"/>
<line x1="299.4" y1="212.92499999999998" x2="302.4" y2="212.92499999999998" stroke="#222" stroke-width="0.7"/>
<circle cx="300.90" cy="205.50" r="1.2" fill="#111"/>
<circle cx="300.90" cy="210.90" r="1.2" fill="#111"/>
<circle cx="300.90" cy="212.92" r="1.2" fill="#111"/>
<line x1="313.5" y1="213.59999999999997" x2="313.5" y2="221.7" stroke="#222" stroke-width="0.7"/>
<line x1="312.0" y1="213.59999999999997" x2="315.0" y2="213.59999999999997" stroke="#222" stroke-width="0.7"/>
<line x1="312.0" y1="221.7" x2="315.0" y2="221.7" stroke="#222" stroke-width="0.7"/>
<circle cx="313.50" cy="213.60" r="1.2" fill="#111"/>
<circle cx="313.50" cy="221.02" r="1.2" fill="#111"/>
<circle cx="313.50" cy="221.70" r="1.2" fill="#111"/>
<line x1="325.7" y1="233.84999999999997" x2="325.7" y2="237.89999999999998" stroke="#222" stroke-width="0.7"/>
<line x1="324.2" y1="233.84999999999997" x2="327.2" y2="233.84999999999997" stroke="#222" stroke-width="0.7"/>
<line x1="324.2" y1="237.89999999999998" x2="327.2" y2="237.89999999999998" stroke="#222" stroke-width="0.7"/>
<circle cx="325.70" cy="233.85" r="1.2" fill="#111"/>
<circle cx="323.40" cy="237.90" r="1.2" fill="#111"/>
<circle cx="328.00" cy="237.90" r="1.2" fill="#111"/>
<line x1="292.6" y1="195.2" x2="292.6" y2="279.04999999999995" stroke="#231f20" stroke-width="1.3"/>
<line x1="291.95000000000005" y1="278.4" x2="334" y2="278.4" stroke="#231f20" stroke-width="1.3"/>
<line x1="289.40000000000003" y1="278.4" x2="292.6" y2="278.4" stroke="#231f20" stroke-width="1.1"/>
<text x="286.6" y="280.7" font-size="6.6" text-anchor="end" fill="#2a2a2a" textLength="9.5" lengthAdjust="spacingAndGlyphs" stroke="#2a2a2a" stroke-width="0.15">0.0</text>
<line x1="289.40000000000003" y1="264.9" x2="292.6" y2="264.9" stroke="#231f20" stroke-width="1.1"/>
<text x="286.6" y="267.2" font-size="6.6" text-anchor="end" fill="#2a2a2a" textLength="9.5" lengthAdjust="spacingAndGlyphs" stroke="#2a2a2a" stroke-width="0.15">0.2</text>
<line x1="289.40000000000003" y1="251.39999999999998" x2="292.6" y2="251.39999999999998" stroke="#231f20" stroke-width="1.1"/>
<text x="286.6" y="253.7" font-size="6.6" text-anchor="end" fill="#2a2a2a" textLength="9.5" lengthAdjust="spacingAndGlyphs" stroke="#2a2a2a" stroke-width="0.15">0.4</text>
<line x1="289.40000000000003" y1="237.89999999999998" x2="292.6" y2="237.89999999999998" stroke="#231f20" stroke-width="1.1"/>
<text x="286.6" y="240.2" font-size="6.6" text-anchor="end" fill="#2a2a2a" textLength="9.5" lengthAdjust="spacingAndGlyphs" stroke="#2a2a2a" stroke-width="0.15">0.6</text>
<line x1="289.40000000000003" y1="224.39999999999998" x2="292.6" y2="224.39999999999998" stroke="#231f20" stroke-width="1.1"/>
<text x="286.6" y="226.7" font-size="6.6" text-anchor="end" fill="#2a2a2a" textLength="9.5" lengthAdjust="spacingAndGlyphs" stroke="#2a2a2a" stroke-width="0.15">0.8</text>
<line x1="289.40000000000003" y1="210.89999999999998" x2="292.6" y2="210.89999999999998" stroke="#231f20" stroke-width="1.1"/>
<text x="286.6" y="213.2" font-size="6.6" text-anchor="end" fill="#2a2a2a" textLength="9.5" lengthAdjust="spacingAndGlyphs" stroke="#2a2a2a" stroke-width="0.15">1.0</text>
<line x1="289.40000000000003" y1="197.39999999999998" x2="292.6" y2="197.39999999999998" stroke="#231f20" stroke-width="1.1"/>
<text x="286.6" y="199.7" font-size="6.6" text-anchor="end" fill="#2a2a2a" textLength="9.5" lengthAdjust="spacingAndGlyphs" stroke="#2a2a2a" stroke-width="0.15">1.2</text>
<line x1="300.9" y1="278.4" x2="300.9" y2="281.0" stroke="#231f20" stroke-width="1.1"/>
<line x1="313.5" y1="278.4" x2="313.5" y2="281.0" stroke="#231f20" stroke-width="1.1"/>
<line x1="325.7" y1="278.4" x2="325.7" y2="281.0" stroke="#231f20" stroke-width="1.1"/>
<text transform="translate(271.2,236.8) rotate(-90)" font-size="9" text-anchor="middle" fill="#333" stroke="#333" stroke-width="0.2" textLength="70.3" lengthAdjust="spacingAndGlyphs">Relative NADP/H levels</text>
<text x="313.3" y="182.4" font-size="9" text-anchor="middle" textLength="16.2" lengthAdjust="spacingAndGlyphs">TKO</text>
<polyline points="300.60,198.40 300.60,193.00 325.20,193.00 325.20,198.40" fill="none" stroke="#6d6e71" stroke-width="0.9"/>
<polyline points="300.60,204.60 300.60,201.10 313.00,201.10 313.00,211.00" fill="none" stroke="#6d6e71" stroke-width="0.9"/>
<polyline points="314.30,211.00 314.30,201.10 325.20,201.10 325.20,232.50" fill="none" stroke="#6d6e71" stroke-width="0.9"/>
<text x="312.65" y="192.9" font-size="7" text-anchor="middle" fill="#333" font-weight="bold" textLength="8.5" lengthAdjust="spacingAndGlyphs" stroke="#333" stroke-width="0.3">***</text>
<text x="307.4" y="198.6" font-size="6.3" text-anchor="middle" fill="#333" textLength="6.4" lengthAdjust="spacingAndGlyphs" font-style="italic">ns</text>
<text x="319.45" y="200.6" font-size="7" text-anchor="middle" fill="#333" font-weight="bold" textLength="4.3" lengthAdjust="spacingAndGlyphs" stroke="#333" stroke-width="0.3">**</text>
<text transform="translate(303.8,286.8) rotate(-45)" font-size="6.3" text-anchor="end" fill="#2a2a2a" stroke="#2a2a2a" stroke-width="0.15">shSc</text>
<text transform="translate(316.0,287.1) rotate(-45)" font-size="6.3" text-anchor="end" fill="#2a2a2a" stroke="#2a2a2a" stroke-width="0.15">shAK2</text>
<text transform="translate(328.6,287.3) rotate(-45)" font-size="6.3" text-anchor="end" fill="#2a2a2a" stroke="#2a2a2a" stroke-width="0.15">shAK2+cCR</text>
<g fill="#333">
<text x="385.4" y="32.3" font-size="6.8" textLength="16.4" lengthAdjust="spacingAndGlyphs">NDPs</text>
<line x1="404.9" y1="30.5" x2="431.5" y2="30.5" stroke="#3c3c3c" stroke-width="0.9"/>
<polygon points="434.20,30.50 431.00,31.90 431.00,29.10" fill="#111"/>
<text x="436.5" y="32.3" font-size="6.8" textLength="21.1" lengthAdjust="spacingAndGlyphs">dNDPs</text>
<path d="M392.75,58.2 V52.1 Q392.75,45.6 399.25,45.6 H441.8 Q448.3,45.6 448.3,52.1 V55" fill="none" stroke="#3c3c3c" stroke-width="0.9"/>
<polygon points="448.30,58.00 446.90,54.80 449.70,54.80" fill="#111"/>
<path d="M448.3,66.9 V73.6 Q448.3,80.1 441.8,80.1 H399.25 Q392.75,80.1 392.75,73.6 V70.5" fill="none" stroke="#3c3c3c" stroke-width="0.9"/>
<polygon points="392.75,67.60 394.15,70.80 391.35,70.80" fill="#111"/>
<ellipse cx="419.2" cy="38.6" rx="11.6" ry="6.7" fill="#8892c6" stroke="#566096" stroke-width="0.8"/>
<text x="419.2" y="40.9" font-size="6.4" text-anchor="middle" fill="#eef0fa" textLength="13" lengthAdjust="spacingAndGlyphs">RNR</text>
<text x="365.3" y="64.8" font-size="6.8" textLength="53.5" lengthAdjust="spacingAndGlyphs">Thioredoxin-(SH2)</text>
<text x="428.5" y="64.8" font-size="6.8" textLength="50.2" lengthAdjust="spacingAndGlyphs">Thioredoxin-(S-S)</text>
<path d="M391.6,104.5 V98.0 Q391.6,91.5 398.1,91.5 H440.5 Q447.0,91.5 447.0,98.0 V101.5" fill="none" stroke="#3c3c3c" stroke-width="0.9"/>
<polygon points="447.00,104.30 445.60,101.10 448.40,101.10" fill="#111"/>
<path d="M447.0,118.1 V124.80000000000001 Q447.0,131.3 440.5,131.3 H398.1 Q391.6,131.3 391.6,124.80000000000001 V122" fill="none" stroke="#3c3c3c" stroke-width="0.9"/>
<polygon points="391.60,119.20 393.00,122.40 390.20,122.40" fill="#111"/>
<rect x="407.2" y="80.1" width="25.2" height="11.4" fill="#c8102e"/>
<text x="419.8" y="88.2" font-size="6.6" text-anchor="middle" fill="#fff" textLength="13.5" lengthAdjust="spacingAndGlyphs">TrxR</text>
<text x="371.2" y="114.9" font-size="6.8" textLength="35.7" lengthAdjust="spacingAndGlyphs">NADPH + H</text>
<text x="407.5" y="111.6" font-size="3.9">+</text>
<text x="443.75" y="114.3" font-size="6.8" textLength="18.2" lengthAdjust="spacingAndGlyphs">NADP</text>
<text x="462.5" y="110.9" font-size="3.9">+</text>
<line x1="409.6" y1="161.7" x2="383.4" y2="122.6" stroke="#3c3c3c" stroke-width="0.9"/>
<polygon points="381.80,120.10 384.94,122.09 382.44,123.76" fill="#111"/>
<line x1="429.3" y1="161.2" x2="455.8" y2="121.9" stroke="#3c3c3c" stroke-width="0.9"/>
<polygon points="457.50,119.40 456.84,123.06 454.36,121.38" fill="#111"/>
<path d="M385.2,164.6 C391,159.5 403,155 419.5,154.2 C434,154.4 445,157.8 450.6,161.4" fill="none" stroke="#222" stroke-width="0.9" stroke-dasharray="1.1,1"/>
<polygon points="452.40,163.20 449.27,162.27 450.94,160.28" fill="#111"/>
<ellipse cx="419.5" cy="147.3" rx="17.6" ry="8.0" fill="#e2e2e2" stroke="#4a4a4a" stroke-width="0.9"/>
<text x="419.4" y="149.6" font-size="6.6" text-anchor="middle" textLength="18.8" lengthAdjust="spacingAndGlyphs">NADK</text>
<text x="408.1" y="171.6" font-size="6.8" textLength="22.3" lengthAdjust="spacingAndGlyphs">NAD/H</text>
<text x="448.1" y="171.6" font-size="6.8" fill="#506a94" textLength="13.4" lengthAdjust="spacingAndGlyphs">ADP</text>
<polygon points="381.25,164.10 385.62,167.28 392.51,167.34 391.08,171.36 395.29,174.61 389.13,176.45 387.50,180.45 381.25,178.72 375.00,180.45 373.37,176.45 367.21,174.61 371.42,171.36 369.99,167.34 376.88,167.28" fill="#c20d2d" stroke="#8e0b20" stroke-width="0.5" stroke-linejoin="round"/>
<text x="381.1" y="175.3" font-size="6.6" text-anchor="middle" fill="#fff" textLength="11.5" lengthAdjust="spacingAndGlyphs">ATP</text>
<path d="M451,202.2 C440,200.5 420,193 398.6,177.8" fill="none" stroke="#3c3c3c" stroke-width="0.9"/>
<polygon points="396.10,176.30 399.54,176.93 397.97,179.25" fill="#111"/>
<polyline points="373.80,199.50 373.80,190.60 380.20,190.60 380.20,185.80" fill="none" stroke="#777" stroke-width="0.9"/>
<polygon points="380.20,183.10 381.50,186.10 378.90,186.10" fill="#111"/>
<rect x="349.6" y="195.8" width="80.7" height="52.8" rx="8" ry="8" fill="none" stroke="#555" stroke-width="0.9"/>
<rect x="360.4" y="209.9" width="55.2" height="23.2" rx="3" ry="3" fill="none" stroke="#555" stroke-width="0.9"/>
<ellipse cx="368.4" cy="203.4" rx="13.2" ry="3.9" fill="#c20d2d" stroke="#8e0b20" stroke-width="0.6"/>
<text x="368.4" y="205.8" font-size="6.6" text-anchor="middle" fill="#fff" textLength="12" lengthAdjust="spacingAndGlyphs">AK2</text>
<line x1="382.2" y1="202.8" x2="384.6" y2="202.8" stroke="#2b2b2b" stroke-width="0.9"/>
<polygon points="387.00,202.80 384.20,204.10 384.20,201.50" fill="#111"/>
<text x="388.0" y="205.3" font-size="6.8" textLength="14.5" lengthAdjust="spacingAndGlyphs">AMP</text>
<text x="412.2" y="205.3" font-size="6.8" fill="#506a94" textLength="12.9" lengthAdjust="spacingAndGlyphs">ADP</text>
<text x="371.9" y="224.4" font-size="6.8" fill="#506a94" textLength="13.1" lengthAdjust="spacingAndGlyphs">ADP</text>
<text x="393.1" y="224.4" font-size="6.8" fill="#e0475a" textLength="11.9" lengthAdjust="spacingAndGlyphs">ATP</text>
<path d="M379,217.6 C379,209 396,207.5 397.8,215.5" fill="none" stroke="#222" stroke-width="0.9"/>
<polygon points="398.10,218.10 396.30,215.37 398.86,214.92" fill="#111"/>
<path d="M399.4,225.6 C400,232 396,236.5 391.3,237.7" fill="none" stroke="#222" stroke-width="0.9"/>
<path d="M359.4,206.9 C352,213 351,229 355.2,235.2" fill="none" stroke="#222" stroke-width="0.9"/>
<ellipse cx="389.3" cy="241.7" rx="13.3" ry="3.9" fill="#c20d2d" stroke="#8e0b20" stroke-width="0.6"/>
<text x="389.3" y="244.2" font-size="6.6" text-anchor="middle" fill="#fff" textLength="12" lengthAdjust="spacingAndGlyphs">AK2</text>
<line x1="375.8" y1="241.7" x2="372.5" y2="241.7" stroke="#2b2b2b" stroke-width="0.9"/>
<polygon points="369.90,241.70 372.70,240.40 372.70,243.00" fill="#111"/>
<text x="351.9" y="243.6" font-size="6.8" fill="#506a94" textLength="17.3" lengthAdjust="spacingAndGlyphs">2ADP</text>
<line x1="402.8" y1="241.5" x2="411.3" y2="241.5" stroke="#444" stroke-width="0.9"/>
<text x="412.2" y="244.1" font-size="6.8" textLength="14.6" lengthAdjust="spacingAndGlyphs">AMP</text>
<path d="M405.3,221.8 Q410,221.8 413.8,219.5" fill="none" stroke="#222" stroke-width="0.9"/>
<path d="M416.5,216 Q416.5,213.5 417.6,212.3" fill="none" stroke="#222" stroke-width="0.9"/>
<polygon points="417.90,209.60 418.79,213.21 415.83,212.69" fill="#111"/>
<ellipse cx="423.85" cy="221.6" rx="9.5" ry="6.5" fill="#8892c6" stroke="#4a5285" stroke-width="1"/>
<text x="423.9" y="224.0" font-size="6.4" text-anchor="middle" fill="#2e3566" textLength="8.2" lengthAdjust="spacingAndGlyphs">CK</text>
<text x="455.0" y="196.8" font-size="6.8" fill="#506a94" textLength="13.5" lengthAdjust="spacingAndGlyphs">ADP</text>
<text x="437.2" y="213.2" font-size="6.8" textLength="13.0" lengthAdjust="spacingAndGlyphs">P-Cr</text>
<line x1="453.6" y1="207.8" x2="453.6" y2="213.4" stroke="#333" stroke-width="0.8"/>
<text x="453.1" y="227.3" font-size="6.8" textLength="5.8" lengthAdjust="spacingAndGlyphs">Cr</text>
<path d="M446.1,205 Q448.5,202.2 453,201.9 C459,201.5 463,207 462.8,212.5 C462.7,214.5 462.3,215.8 461.9,216.8" fill="none" stroke="#222" stroke-width="0.9"/>
<polygon points="461.30,219.60 460.73,215.93 463.63,216.70" fill="#111"/>
<path d="M457.4,199.4 Q456.2,201.3 453.5,201.9" fill="none" stroke="#222" stroke-width="0.8"/>
<path d="M449.4,232.6 C440,235 433,229 434.9,219.6" fill="none" stroke="#222" stroke-width="0.9"/>
<polygon points="435.30,216.60 435.87,220.27 432.97,219.50" fill="#111"/>
<line x1="455" y1="210.3" x2="471" y2="206.6" stroke="#555" stroke-width="0.8" stroke-dasharray="1,0.9"/>
<text x="472.25" y="206.2" font-size="6.8" textLength="40.5" lengthAdjust="spacingAndGlyphs">Cyclocreatine</text>
<text x="484.75" y="214.0" font-size="6.8" textLength="15.5" lengthAdjust="spacingAndGlyphs">(cCR)</text>
<line x1="470" y1="244.4" x2="461.4" y2="231.2" stroke="#333" stroke-width="0.8"/>
<polygon points="459.80,228.80 462.52,230.61 460.34,232.02" fill="#111"/>
<text x="460.0" y="251.0" font-size="6.8" textLength="25.0" lengthAdjust="spacingAndGlyphs">Creatine</text>
</g>
</g>
<rect x="0.5" y="0.5" width="518.8" height="318.8" fill="none" stroke="#555" stroke-width="1.2"/>
</svg>
</body></html>
